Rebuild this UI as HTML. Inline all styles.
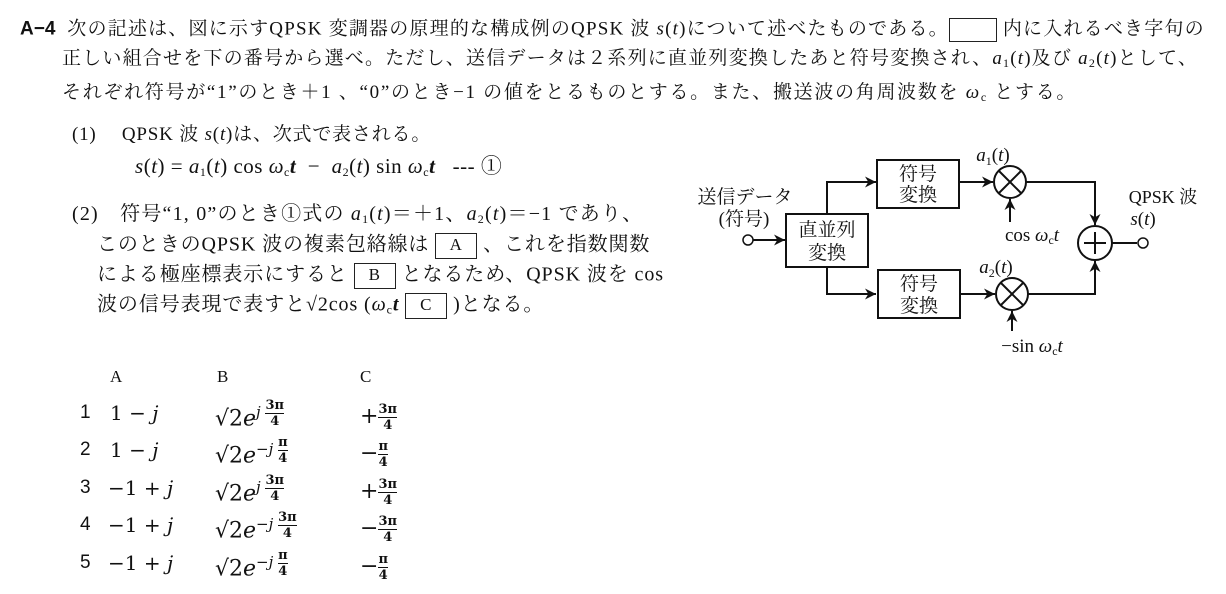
<!DOCTYPE html>
<html><head><meta charset="utf-8"><style>
body{margin:0;width:1226px;height:594px;background:#fff;position:relative;overflow:hidden;font-family:"Liberation Serif","Noto Serif CJK JP","Noto Serif CJK SC",serif;color:#111;}
.t{position:absolute;white-space:nowrap;font-size:19px;line-height:22px;}
.bx{display:inline-block;border:1.5px solid #222;text-align:center;line-height:22px;height:24px;vertical-align:middle;font-size:17px;}
i{font-style:italic}
sub{font-size:12px;vertical-align:-3px}
.s{font-family:"Liberation Sans","Noto Sans CJK JP",sans-serif;}
.fr{display:inline-block;vertical-align:middle;text-align:center;font-size:13px;line-height:15px;font-weight:bold}
.fr span{display:block}
.fr .n{border-bottom:1px solid #111}
</style></head><body>
<div class="t" style="left:20px;top:18px;letter-spacing:1.2px"><b class="s" style="letter-spacing:0">A−4</b>&nbsp; 次の記述は、図に示すQPSK 変調器の原理的な構成例のQPSK 波 <i>s</i>(<i>t</i>)について述べたものである。<span class="bx" style="width:46px;height:22px"></span> 内に入れるべき字句の</div>
<div class="t" style="left:62px;top:48px;letter-spacing:1.2px">正しい組合せを下の番号から選べ。ただし、送信データは２系列に直並列変換したあと符号変換され、<i>a</i><sub>1</sub>(<i>t</i>)及び <i>a</i><sub>2</sub>(<i>t</i>)として、</div>
<div class="t" style="left:62px;top:82px;letter-spacing:1.7px">それぞれ符号が“1”のとき＋1 、“0”のとき−1 の値をとるものとする。また、搬送波の角周波数を <i>ω</i><sub>c</sub> とする。</div>

<div class="t" style="left:72px;top:124px;letter-spacing:0.8px">(1)　 QPSK 波 <i>s</i>(<i>t</i>)は、次式で表される。</div>
<div class="t" style="left:135px;top:155px;font-size:21px;letter-spacing:0.5px"><i>s</i>(<i>t</i>) = <i>a</i><sub>1</sub>(<i>t</i>) cos <i>ω</i><sub>c</sub><b><i>t</i></b> &nbsp;−&nbsp; <i>a</i><sub>2</sub>(<i>t</i>) sin <i>ω</i><sub>c</sub><b><i>t</i></b> &nbsp; --- ①</div>
<div class="t" style="left:72px;top:203px;font-size:20px;letter-spacing:1.2px">(2)　符号“1, 0”のとき①式の <i>a</i><sub>1</sub>(<i>t</i>)＝＋1、<i>a</i><sub>2</sub>(<i>t</i>)＝−1 であり、</div>
<div class="t" style="left:97px;top:233px;font-size:20px;letter-spacing:0.9px">このときのQPSK 波の複素包絡線は <span class="bx" style="width:40px">A</span> 、これを指数関数</div>
<div class="t" style="left:97px;top:263px;font-size:20px;letter-spacing:0.9px">による極座標表示にすると <span class="bx" style="width:40px">B</span> となるため、QPSK 波を cos</div>
<div class="t" style="left:97px;top:293px;font-size:20px;letter-spacing:0.9px">波の信号表現で表すと√2cos (<i>ω</i><sub>c</sub><b><i>t</i></b> <span class="bx" style="width:40px">C</span> )となる。</div>

<div class="t" style="left:110px;top:366px;font-size:17px">A</div>
<div class="t" style="left:217px;top:366px;font-size:17px">B</div>
<div class="t" style="left:360px;top:366px;font-size:17px">C</div>
<div class="s t" style="left:80px;top:401px;font-size:19px;line-height:24px">
<div style="position:absolute;top:0">1</div><div style="position:absolute;top:37px">2</div><div style="position:absolute;top:75px">3</div><div style="position:absolute;top:112px">4</div><div style="position:absolute;top:150px">5</div></div>
<div class="t" style="left:110px;top:401px;font-size:20px;line-height:24px;font-family:'DejaVu Serif',serif">
<div style="position:absolute;top:0">1 − <i>j</i></div><div style="position:absolute;top:37px">1 − <i>j</i></div><div style="position:absolute;top:75px;left:-2px">−1 + <i>j</i></div><div style="position:absolute;top:112px;left:-2px">−1 + <i>j</i></div><div style="position:absolute;top:150px;left:-2px">−1 + <i>j</i></div></div>
<div class="t" style="left:215px;top:397px;font-size:22px;line-height:30px;font-family:'DejaVu Serif',serif">
<div style="position:absolute;top:0">√2<i>e</i><sup style="font-size:15px"><i>j</i> <span class="fr"><span class="n">3π</span><span>4</span></span></sup></div>
<div style="position:absolute;top:37px">√2<i>e</i><sup style="font-size:15px">−<i>j</i> <span class="fr"><span class="n">π</span><span>4</span></span></sup></div>
<div style="position:absolute;top:75px">√2<i>e</i><sup style="font-size:15px"><i>j</i> <span class="fr"><span class="n">3π</span><span>4</span></span></sup></div>
<div style="position:absolute;top:112px">√2<i>e</i><sup style="font-size:15px">−<i>j</i> <span class="fr"><span class="n">3π</span><span>4</span></span></sup></div>
<div style="position:absolute;top:150px">√2<i>e</i><sup style="font-size:15px">−<i>j</i> <span class="fr"><span class="n">π</span><span>4</span></span></sup></div></div>
<div class="t" style="left:360px;top:401px;font-size:22px;line-height:32px;font-family:'DejaVu Serif',serif">
<div style="position:absolute;top:0;width:60px">+<span class="fr"><span class="n">3π</span><span>4</span></span></div>
<div style="position:absolute;top:37px;width:60px">−<span class="fr"><span class="n">π</span><span>4</span></span></div>
<div style="position:absolute;top:75px;width:60px">+<span class="fr"><span class="n">3π</span><span>4</span></span></div>
<div style="position:absolute;top:112px;width:60px">−<span class="fr"><span class="n">3π</span><span>4</span></span></div>
<div style="position:absolute;top:150px;width:60px">−<span class="fr"><span class="n">π</span><span>4</span></span></div></div>

<svg style="position:absolute;left:0;top:0" width="1226" height="594">
<defs><marker id="a" viewBox="0 0 10 10" refX="10" refY="5" markerWidth="13" markerHeight="11" orient="auto" markerUnits="userSpaceOnUse"><path d="M0,0 L10,5 L0,10 L3,5 z" fill="#111"/></marker></defs>
<g stroke="#111" stroke-width="2" fill="none">
<circle cx="748" cy="240" r="5" stroke-width="1.5"/>
<line x1="753" y1="240" x2="785" y2="240" marker-end="url(#a)"/>
<rect x="786" y="214" width="82" height="53"/>
<polyline points="827,214 827,182 876,182" marker-end="url(#a)"/>
<polyline points="827,267 827,294 876,294" marker-end="url(#a)"/>
<rect x="877" y="160" width="82" height="48"/>
<rect x="878" y="270" width="82" height="48"/>
<line x1="959" y1="182" x2="993" y2="182" marker-end="url(#a)"/>
<line x1="960" y1="294" x2="995" y2="294" marker-end="url(#a)"/>
<circle cx="1010" cy="182" r="16"/>
<circle cx="1012" cy="294" r="16"/>
<line x1="999" y1="171" x2="1021" y2="193"/><line x1="1021" y1="171" x2="999" y2="193"/>
<line x1="1001" y1="283" x2="1023" y2="305"/><line x1="1023" y1="283" x2="1001" y2="305"/>
<line x1="1010" y1="222" x2="1010" y2="199" marker-end="url(#a)"/>
<line x1="1012" y1="331" x2="1012" y2="311" marker-end="url(#a)"/>
<polyline points="1026,182 1095,182 1095,225" marker-end="url(#a)"/>
<polyline points="1028,294 1095,294 1095,261" marker-end="url(#a)"/>
<circle cx="1095" cy="243" r="17"/>
<line x1="1084" y1="243" x2="1106" y2="243"/><line x1="1095" y1="232" x2="1095" y2="254"/>
<line x1="1112" y1="243" x2="1137" y2="243"/>
<circle cx="1143" cy="243" r="5" stroke-width="1.5"/>
</g>
<g font-family="Liberation Serif,Noto Serif CJK JP,serif" font-size="19" fill="#111" text-anchor="middle">
<text x="745" y="203">送信データ</text><text x="744" y="225">(符号)</text>
<text x="827" y="236">直並列</text><text x="827" y="259">変換</text>
<text x="918" y="180">符号</text><text x="918" y="201">変換</text>
<text x="919" y="290">符号</text><text x="919" y="312">変換</text>
<text x="1163" y="203" font-size="18">QPSK 波</text>
<text x="1143" y="225"><tspan font-style="italic">s</tspan>(<tspan font-style="italic">t</tspan>)</text>
<text x="993" y="161"><tspan font-style="italic">a</tspan><tspan font-size="12" dy="4">1</tspan><tspan dy="-4">(</tspan><tspan font-style="italic">t</tspan>)</text>
<text x="996" y="273"><tspan font-style="italic">a</tspan><tspan font-size="12" dy="4">2</tspan><tspan dy="-4">(</tspan><tspan font-style="italic">t</tspan>)</text>
<text x="1032" y="241">cos <tspan font-style="italic">ω</tspan><tspan font-size="12" dy="3">c</tspan><tspan dy="-3" font-style="italic">t</tspan></text>
<text x="1032" y="352">−sin <tspan font-style="italic">ω</tspan><tspan font-size="12" dy="3">c</tspan><tspan dy="-3" font-style="italic">t</tspan></text>
</g>
</svg>
</body></html>
